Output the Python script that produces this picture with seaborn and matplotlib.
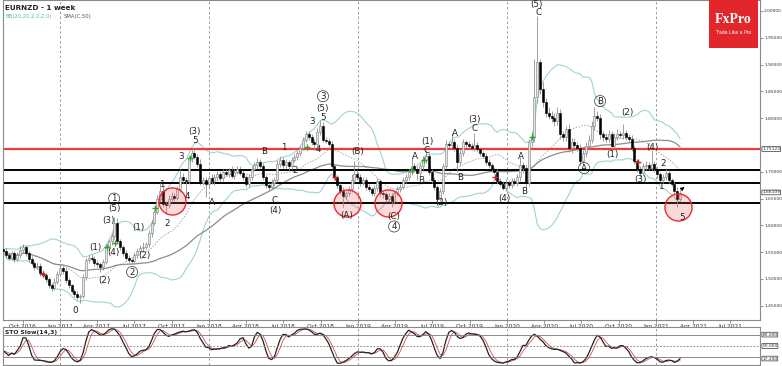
import numpy as np
import pandas as pd
import matplotlib
matplotlib.use("Agg")
import matplotlib.pyplot as plt
import matplotlib.dates as mdates
import seaborn as sns

# weekly bars EURNZD, first bar = week of 14 Aug 2016
first_week = "2016-08-14"
first_open = 1.556
closes = [
    1.553, 1.545, 1.540, 1.548, 1.537, 1.545, 1.555, 1.560, 1.548, 1.538, 1.530, 1.522, 1.525, 1.512, 1.508, 1.500, 1.488, 1.483, 1.495, 1.510,
    1.520, 1.515, 1.498, 1.488, 1.478, 1.472, 1.466, 1.468, 1.503, 1.535, 1.540, 1.538, 1.530, 1.528, 1.522, 1.532, 1.560, 1.570, 1.580, 1.605,
    1.570, 1.560, 1.548, 1.540, 1.535, 1.533, 1.545, 1.552, 1.558, 1.560, 1.565, 1.585, 1.605, 1.625, 1.650, 1.665, 1.640, 1.638, 1.650, 1.655,
    1.652, 1.668, 1.690, 1.685, 1.682, 1.725, 1.735, 1.728, 1.715, 1.680, 1.685, 1.678, 1.688, 1.682, 1.690, 1.695, 1.688, 1.700, 1.696, 1.703,
    1.693, 1.700, 1.705, 1.698, 1.690, 1.677, 1.690, 1.705, 1.712, 1.718, 1.710, 1.690, 1.675, 1.672, 1.680, 1.685, 1.715, 1.722, 1.712, 1.718,
    1.710, 1.722, 1.728, 1.735, 1.745, 1.760, 1.770, 1.765, 1.755, 1.752, 1.775, 1.785, 1.760, 1.757, 1.752, 1.710, 1.690, 1.675, 1.665, 1.655,
    1.660, 1.668, 1.685, 1.695, 1.690, 1.680, 1.685, 1.672, 1.668, 1.660, 1.670, 1.682, 1.660, 1.658, 1.650, 1.655, 1.645, 1.660, 1.668, 1.672,
    1.685, 1.690, 1.700, 1.710, 1.705, 1.698, 1.710, 1.722, 1.730, 1.700, 1.685, 1.672, 1.650, 1.665, 1.710, 1.752, 1.750, 1.756, 1.745, 1.718,
    1.735, 1.755, 1.752, 1.748, 1.745, 1.750, 1.742, 1.735, 1.730, 1.718, 1.712, 1.705, 1.700, 1.683, 1.678, 1.670, 1.680, 1.675, 1.683, 1.680,
    1.690, 1.712, 1.708, 1.680, 1.755, 1.765, 1.840, 1.905, 1.855, 1.830, 1.810, 1.805, 1.800, 1.795, 1.810, 1.770, 1.765, 1.780, 1.745, 1.755,
    1.750, 1.745, 1.720, 1.735, 1.748, 1.760, 1.785, 1.805, 1.800, 1.770, 1.765, 1.762, 1.770, 1.748, 1.765, 1.770, 1.768, 1.772, 1.765, 1.762,
    1.745, 1.720, 1.705, 1.698, 1.710, 1.712, 1.708, 1.715, 1.705, 1.695, 1.685, 1.690, 1.698, 1.685, 1.678, 1.665, 1.650, 1.661,
]
# shadows above / below the body, in 0.001
wick_up = [
    5, 4, 6, 5, 4, 5, 6, 5, 4, 4, 5, 3, 6, 4, 5, 4, 4, 5, 6, 5,
    6, 4, 5, 4, 3, 4, 5, 4, 6, 5, 5, 6, 4, 5, 4, 5, 6, 5, 6, 11,
    8, 5, 4, 6, 5, 4, 5, 6, 5, 9, 4, 6, 5, 4, 6, 15, 8, 5, 6, 7,
    5, 6, 15, 7, 6, 5, 9, 5, 6, 8, 6, 5, 6, 8, 5, 6, 7, 5, 6, 5,
    7, 6, 5, 6, 5, 4, 6, 5, 6, 8, 5, 6, 4, 5, 6, 5, 7, 8, 5, 6,
    4, 6, 5, 5, 4, 5, 6, 7, 5, 6, 6, 11, 8, 5, 6, 6, 5, 4, 5, 6,
    5, 6, 10, 25, 8, 5, 6, 5, 6, 4, 6, 7, 5, 4, 5, 6, 5, 6, 5, 6,
    5, 6, 5, 18, 6, 5, 6, 7, 11, 6, 5, 6, 4, 5, 6, 8, 6, 16, 6, 7,
    6, 7, 5, 6, 5, 22, 6, 5, 4, 5, 6, 5, 4, 6, 5, 4, 6, 5, 6, 5,
    6, 16, 6, 5, 7, 10, 70, 85, 5, 12, 8, 10, 9, 10, 10, 8, 7, 6, 10, 8,
    8, 6, 7, 6, 7, 8, 9, 15, 8, 8, 6, 7, 8, 6, 7, 9, 6, 18, 6, 5,
    6, 5, 4, 6, 6, 8, 6, 25, 5, 6, 5, 6, 9, 5, 4, 5, 6, 5,
]
wick_dn = [
    5, 6, 4, 5, 6, 4, 5, 6, 5, 6, 4, 5, 4, 6, 5, 6, 5, 6, 4, 5,
    5, 6, 5, 4, 5, 6, 5, 11, 4, 5, 6, 4, 5, 6, 9, 5, 4, 5, 6, 5,
    5, 6, 5, 4, 6, 5, 4, 5, 6, 5, 4, 5, 6, 5, 4, 6, 5, 16, 5, 6,
    6, 5, 6, 5, 29, 5, 6, 5, 6, 5, 4, 25, 6, 5, 6, 5, 6, 5, 4, 6,
    5, 6, 5, 4, 6, 5, 6, 5, 4, 6, 5, 6, 5, 6, 5, 6, 4, 6, 7, 5,
    6, 5, 4, 6, 5, 4, 5, 6, 5, 11, 5, 6, 5, 4, 6, 5, 6, 5, 6, 21,
    5, 6, 5, 6, 5, 6, 5, 6, 5, 6, 5, 6, 5, 6, 6, 5, 11, 5, 6, 5,
    5, 6, 5, 6, 5, 13, 5, 6, 5, 6, 5, 6, 8, 5, 6, 5, 6, 5, 6, 18,
    5, 6, 5, 6, 5, 6, 5, 6, 5, 6, 5, 6, 5, 6, 5, 4, 6, 5, 6, 5,
    6, 8, 10, 12, 6, 8, 10, 12, 10, 9, 8, 7, 8, 9, 8, 9, 8, 7, 8, 9,
    8, 7, 7, 6, 7, 8, 6, 7, 6, 8, 7, 6, 7, 6, 5, 6, 5, 6, 5, 6,
    6, 5, 6, 8, 5, 6, 5, 6, 5, 6, 5, 6, 5, 6, 5, 6, 16, 5,
]

# horizontal levels
red_level = 1.7425
black_levels = [1.7037, 1.6797, 1.6424]
price_ticks = [1.45, 1.50, 1.55, 1.60, 1.65, 1.70, 1.80, 1.85, 1.90, 1.95, 2.00]

# circled zones (week index, price)
circle_wk = [59.2, 120.4, 134.8, 236.3]
circle_px = [1.6455, 1.6418, 1.6418, 1.634]

# wave count labels (text, week index, price, circled?)
wave_txt = ["0", "(1)", "(2)", "(3)", "(4)", "(5)", "1", "(1)", "(2)", "2", "1", "2", "3", "4", "(3)", "5",
            "A", "B", "C", "(4)", "1", "2", "3", "4", "5", "(5)", "3", "(A)", "(B)", "(C)", "4",
            "A", "B", "(1)", "C", "(2)", "A", "B", "(3)", "C", "(4)", "A", "B", "(5)", "C",
            "A", "B", "(1)", "(2)", "(3)", "(4)", "2", "1", "5"]
wave_wk = [25.2, 32.2, 35.4, 37.1, 38.5, 38.9, 38.9, 47.3, 49.4, 45.2, 55.7, 57.4, 62.3, 64.4, 67.2, 67.2,
           73.2, 91.4, 95.2, 95.2, 98.4, 102.2, 108.2, 110.3, 112.0, 112.0, 112.0, 120.4, 124.3, 136.9, 136.9,
           144.2, 146.3, 148.4, 148.1, 153.3, 158.2, 160.0, 165.2, 165.2, 175.4, 181.3, 182.4, 186.9, 187.3,
           203.4, 209.0, 213.2, 218.4, 223.0, 227.2, 231.0, 230.3, 237.7]
wave_px = [1.442, 1.558, 1.498, 1.610, 1.550, 1.631, 1.650, 1.597, 1.543, 1.513, 1.677, 1.604, 1.728, 1.653, 1.776, 1.759,
           1.642, 1.737, 1.647, 1.627, 1.746, 1.703, 1.793, 1.741, 1.802, 1.819, 1.841, 1.619, 1.737, 1.616, 1.598,
           1.728, 1.683, 1.757, 1.739, 1.642, 1.771, 1.690, 1.797, 1.780, 1.651, 1.729, 1.664, 2.012, 1.998,
           1.707, 1.832, 1.733, 1.810, 1.685, 1.746, 1.716, 1.672, 1.614]
wave_circ = [False, False, False, False, False, False, True, False, False, True, False, False, False, False, False, False,
             False, False, False, False, False, False, False, False, False, False, True, False, False, False, True,
             False, False, False, False, False, False, False, False, False, False, False, False, False, False,
             True, True, False, False, False, False, False, False, False]

# signal crosses
green_wk = [36.4, 39.2, 53.2, 65.5, 106.4, 143.2, 147.4, 185.2]
green_px = [1.560, 1.567, 1.632, 1.726, 1.746, 1.703, 1.722, 1.765]
red_wk = [14.0, 116.2, 172.2, 222.3]
red_px = [1.509, 1.690, 1.690, 1.718]

for name, lst in [("wick_up", wick_up), ("wick_dn", wick_dn)]:
    if len(lst) != len(closes):
        raise ValueError(name + " length %d vs %d" % (len(lst), len(closes)))

t0 = mdates.date2num(pd.Timestamp(first_week))
def wk(i):
    return t0 + np.asarray(i) * 7.0

df = pd.DataFrame({"close": closes})
df["x"] = wk(np.arange(len(df)))
df["open"] = [first_open] + closes[:-1]
df["top"] = df[["open", "close"]].max(axis=1)
df["bot"] = df[["open", "close"]].min(axis=1)
df["high"] = df["top"] + np.array(wick_up) / 1000
df["low"] = df["bot"] - np.array(wick_dn) / 1000

# indicators
mid = df["close"].rolling(20, min_periods=1).mean()
sd = df["close"].rolling(20, min_periods=1).std(ddof=0)
df["bb_up"] = mid + 2 * sd
df["bb_dn"] = mid - 2 * sd
df["bb_mid"] = mid
df["sma50"] = df["close"].rolling(50, min_periods=1).mean()
ll = df["low"].rolling(14, min_periods=1).min()
hh = df["high"].rolling(14, min_periods=1).max()
df["k"] = 100 * (df["close"] - ll).rolling(3, min_periods=1).sum() / (hh - ll).rolling(3, min_periods=1).sum()
df["d"] = df["k"].rolling(3, min_periods=1).mean()

sns.set_style("white")
plt.rcParams["font.family"] = ["DejaVu Sans"]

W, H = 782, 366
fig = plt.figure(figsize=(W / 100, H / 100), dpi=100)
ax = fig.add_axes([3 / W, 1 - 320 / H, 757 / W, 320 / H])
ax2 = fig.add_axes([3 / W, 1 / H, 757 / W, (366 - 328) / H])

px_per_day = 2.857 / 7
xmin = t0
xmax = t0 + 757 / px_per_day
ymax = 2.0 + 11 / 536
ymin = 2.0 - 309 / 536

# year separators
years = [mdates.date2num(pd.Timestamp(str(y) + "-01-01")) for y in range(2017, 2022)]
for a in (ax, ax2):
    for yx in years:
        a.axvline(yx, color="#9a9a9a", lw=0.7, ls=(0, (2.5, 2.5)), zorder=0)

# bollinger + sma
sns.lineplot(data=df, x="x", y="bb_up", ax=ax, color="#9fd3d6", lw=0.8, zorder=1)
sns.lineplot(data=df, x="x", y="bb_dn", ax=ax, color="#9fd3d6", lw=0.8, zorder=1)
sns.lineplot(data=df, x="x", y="bb_mid", ax=ax, color="#a8a8a8", lw=0.7, ls=(0, (1.5, 1.5)), zorder=1)
sns.lineplot(data=df, x="x", y="sma50", ax=ax, color="#8c8c8c", lw=0.9, zorder=1)

# levels
ax.axhline(red_level, color="#f03a3a", lw=1.6, zorder=2)
for lv in black_levels:
    ax.axhline(lv, color="black", lw=1.4, zorder=2)

# candles
ax.vlines(df["x"], df["low"], df["high"], color="#8f8f8f", lw=0.6, zorder=3)
up = df["close"] >= df["open"]
ax.bar(df.loc[up, "x"], (df.loc[up, "top"] - df.loc[up, "bot"]).clip(lower=0.0008), bottom=df.loc[up, "bot"],
       width=4.8, color="#e6e6e6", edgecolor="#7d7d7d", linewidth=0.4, zorder=4)
ax.bar(df.loc[~up, "x"], (df.loc[~up, "top"] - df.loc[~up, "bot"]).clip(lower=0.0008), bottom=df.loc[~up, "bot"],
       width=4.8, color="black", edgecolor="black", linewidth=0.4, zorder=4)

ax.scatter(wk(green_wk), green_px, marker="+", color="#2aa52a", s=14, lw=1.0, zorder=5)
ax.scatter(wk(red_wk), red_px, marker="+", color="#d42020", s=14, lw=1.0, zorder=5)

# circles
ax.scatter(wk(circle_wk), circle_px, s=380, facecolor=(0.95, 0.35, 0.35, 0.22),
           edgecolor="#ee2a2a", linewidth=1.0, zorder=6)

# wave labels
for t, i, p, c in zip(wave_txt, wave_wk, wave_px, wave_circ):
    kw = {}
    if c:
        kw["bbox"] = dict(boxstyle="circle,pad=0.12", fc="none", ec="#333333", lw=0.5)
    ax.text(wk(i), p, t, fontsize=6.3, ha="center", va="center", color="#222222", zorder=7, **kw)

ax.annotate("", xy=(wk(239.3), 1.675), xytext=(wk(237.4), 1.667),
            arrowprops=dict(arrowstyle="-|>", color="black", lw=0.8, mutation_scale=5), zorder=7)

ax.set_xlim(xmin, xmax)
ax.set_ylim(ymin, ymax)
ax.set_xlabel("")
ax.set_ylabel("")

# x ticks at quarters
qdates = pd.date_range("2016-10-01", "2021-07-01", freq="QS")
ax.set_xticks(mdates.date2num(qdates))
ax.set_xticklabels([d.strftime("%b %Y") for d in qdates], fontsize=4.2, color="#333333")
ax.tick_params(axis="x", length=2, width=0.5, pad=1, color="#666666", bottom=True)

ax.yaxis.tick_right()
ax.set_yticks(price_ticks)
ax.set_yticklabels(["%.5f" % v for v in price_ticks], fontsize=3.2, color="#333333")
ax.tick_params(axis="y", length=2, width=0.5, pad=1, color="#666666", right=True)

for a in (ax, ax2):
    for s in a.spines.values():
        s.set_color("#8a8a8a")
        s.set_linewidth(0.8)

box = dict(boxstyle="round,pad=0.08", fc="white", ec="#333333", lw=0.5)
ax.text(1.003, red_level, "1.75123", transform=ax.get_yaxis_transform(), fontsize=3.2, va="center", ha="left", bbox=box)
ax.text(1.003, 1.6615, "1.66109", transform=ax.get_yaxis_transform(), fontsize=3.2, va="center", ha="left", bbox=box)

ax.text(0.002, 0.985, "EURNZD - 1 week", transform=ax.transAxes, fontsize=5.2, fontweight="bold", va="top")
ax.text(0.003, 0.955, "BB(20,20,2.0,2.0)", transform=ax.transAxes, fontsize=3.8, color="#5ab3bb", va="top")
ax.text(0.08, 0.955, "SMA(C,50)", transform=ax.transAxes, fontsize=3.8, color="#555555", va="top")

# stochastic panel
sns.lineplot(data=df, x="x", y="d", ax=ax2, color="#d0504a", lw=0.6)
sns.lineplot(data=df, x="x", y="k", ax=ax2, color="#222222", lw=0.9)
ax2.axhline(80, color="#777777", lw=0.6)
ax2.axhline(50, color="#777777", lw=0.6, ls=(0, (2, 2)))
ax2.axhline(20, color="#777777", lw=0.6)
ax2.set_xlim(xmin, xmax)
ax2.set_ylim(0, 100)
ax2.set_xticks([])
ax2.set_yticks([])
ax2.set_xlabel("")
ax2.set_ylabel("")
ax2.text(0.002, 0.93, "STO Slow(14,3)", transform=ax2.transAxes, fontsize=4.3, fontweight="bold", va="top")
for v, lab in [(80, "80.000"), (50, "50.000"), (17, "17.200")]:
    ax2.text(1.003, v, lab, transform=ax2.get_yaxis_transform(), fontsize=3.2, va="center", ha="left", bbox=box)

# FxPro badge
logo = fig.add_axes([709 / W, 1 - 48 / H, 49 / W, 48 / H])
logo.set_facecolor("#e3262b")
logo.set_xticks([])
logo.set_yticks([])
for s in logo.spines.values():
    s.set_visible(False)
logo.text(0.5, 0.6, "FxPro", color="white", fontsize=10, fontweight="bold", family="Liberation Serif",
          ha="center", va="center", transform=logo.transAxes)
logo.text(0.5, 0.33, "Trade Like a Pro", color="white", fontsize=3.3, ha="center", va="center", transform=logo.transAxes)

fig.savefig("out.png", dpi=100)
